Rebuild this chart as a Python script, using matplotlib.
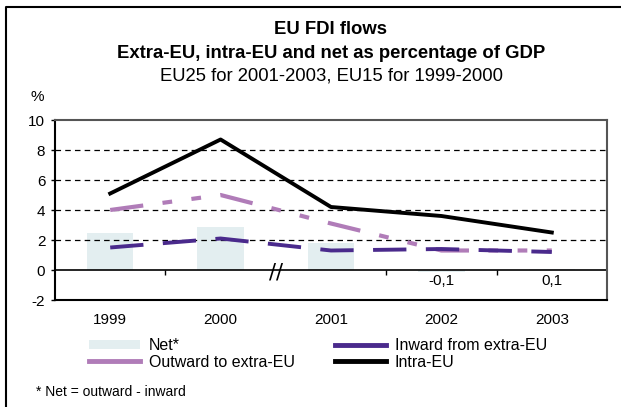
"""
EU FDI flows: extra-EU, intra-EU and net as % of GDP (1999-2003)
Output: out.png
"""
import numpy as np
import matplotlib
matplotlib.use("Agg")
import matplotlib.pyplot as plt
from matplotlib.lines import Line2D
from matplotlib.patches import Patch

plt.rcParams["font.family"] = ["Liberation Sans", "DejaVu Sans"]
plt.rcParams["axes.unicode_minus"] = False
plt.rcParams["lines.scale_dashes"] = False

# 数据
years = ["1999", "2000", "2001", "2002", "2003"]
net = [2.5, 2.9, 1.8, -0.1, 0.1]
inward = [1.5, 2.1, 1.3, 1.4, 1.2]
outward = [4.0, 5.0, 3.1, 1.3, 1.3]
intra = [5.1, 8.7, 4.2, 3.6, 2.5]
net_labels = {3: "-0,1", 4: "0,1"}
yticks = [-2, 0, 2, 4, 6, 8, 10]

C_NET = "#e3eef0"
C_IN = "#4a2a8c"
C_OUT = "#b07cb8"

W, H = 621, 407
fig = plt.figure(figsize=(W / 100, H / 100), dpi=100)
ax = fig.add_axes([55 / W, 1 - 300 / H, (607 - 55) / W, 180 / H])

x = np.arange(len(years))
ax.bar(x, net, width=0.42, color=C_NET, zorder=1)

# 网格: 虚线, 0 线实线
for v in yticks[1:-1]:
    if v == 0:
        ax.axhline(0, color="black", lw=1.2, zorder=2)
    else:
        ax.axhline(v, color="black", lw=0.9, dashes=(4, 3), zorder=2)

ax.plot(x, outward, color=C_OUT, lw=3.0, dashes=(24, 14, 7, 14, 7, 14),
        dash_capstyle="butt", zorder=3)
ax.plot(x, inward, color=C_IN, lw=2.8, dashes=(24, 14),
        dash_capstyle="butt", zorder=4)
ax.plot(x, intra, color="black", lw=2.8, zorder=5)

# 类别间隔刻度 (跳过 2000/2001 断点)
bounds = x[:-1] + 0.5
ax.vlines([b for b in bounds if b != 1.5], -0.3, 0, color="black", lw=1, zorder=2)
ax.text(1.5, -0.2, "//", ha="center", va="center", fontsize=15,
        family="DejaVu Sans", zorder=6)

for i, s in net_labels.items():
    ax.annotate(s, (i, 0), xytext=(0, -8), textcoords="offset points",
                ha="center", va="center", fontsize=11)

ax.set_xlim(-0.5, len(years) - 0.5)
ax.set_ylim(yticks[0], yticks[-1])
ax.set_yticks(yticks)
ax.set_xticks(x)
ax.set_xticklabels(years)
ax.tick_params(axis="x", length=0, pad=9, labelsize=11)
ax.tick_params(axis="y", length=3, width=1, pad=4, labelsize=11)
for side in ["left", "bottom"]:
    ax.spines[side].set_color("black")
    ax.spines[side].set_linewidth(1.5)
for side in ["top", "right"]:
    ax.spines[side].set_color("#555555")
    ax.spines[side].set_linewidth(1.5)

fig.text(37 / W, 1 - 97 / H, "%", ha="center", va="center", fontsize=11)

# 标题
fig.text(331 / W, 1 - 30 / H, "EU FDI flows", ha="center", va="center",
         fontsize=13.3, fontweight="bold")
fig.text(331 / W, 1 - 53 / H, "Extra-EU, intra-EU and net as percentage of GDP",
         ha="center", va="center", fontsize=13.3, fontweight="bold")
fig.text(331 / W, 1 - 76 / H, "EU25 for 2001-2003, EU15 for 1999-2000",
         ha="center", va="center", fontsize=13.3)

# 图例
handles = [
    Patch(facecolor=C_NET, edgecolor="none"),
    Line2D([], [], color=C_OUT, lw=3.5),
    Line2D([], [], color=C_IN, lw=3.5),
    Line2D([], [], color="black", lw=3.5),
]
labels = ["Net*", "Outward to extra-EU", "Inward from extra-EU", "Intra-EU"]
fig.legend(handles, labels, loc="upper left", bbox_to_anchor=(81 / W, 1 - 330 / H),
           ncol=2, frameon=False, fontsize=11.5, borderpad=0, handlelength=3.2,
           handleheight=0.5, handletextpad=0.55, columnspacing=2.5,
           labelspacing=0.1)

fig.text(36 / W, 1 - 392 / H, "* Net = outward - inward", ha="left", va="center",
         fontsize=10)

# 外框 (左, 上)
fig.add_artist(Line2D([6 / W, 6 / W, 1], [0, 1 - 7 / H, 1 - 7 / H],
                      transform=fig.transFigure, color="black", lw=1.5))

fig.savefig("out.png", dpi=100)
